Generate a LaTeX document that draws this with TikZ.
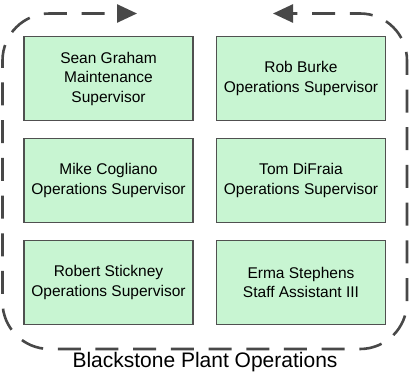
\documentclass[tikz,border=0pt]{standalone}
\usepackage{fontspec}
\setmainfont{Liberation Sans}
\usetikzlibrary{arrows.meta}
\definecolor{boxfill}{RGB}{200,245,210}
\definecolor{boxline}{RGB}{80,80,80}
\definecolor{dashcol}{RGB}{72,72,72}
\begin{document}
\begin{tikzpicture}[x=1pt,y=-1pt,
  person/.style={draw=boxline, fill=boxfill, line width=1.3pt,
    minimum width=169pt, minimum height=84pt, inner sep=0pt,
    align=center, font=\fontsize{15.5}{19.5}\selectfont},
  frame/.style={draw=dashcol, line width=2.6pt, rounded corners=47pt,
    dash pattern=on 23pt off 14.7pt, dash phase=18pt,
    {Triangle[length=20pt,width=18pt]}-{Triangle[length=20pt,width=18pt]}},
  caption/.style={anchor=base, font=\fontsize{21}{25}\selectfont}]
\useasboundingbox (0,0) rectangle (409,382);
\node[person] (sg) at (108.5,78.5) {Sean Graham\\Maintenance\\Supervisor};
\node[person] (rb) at (301,78.5) {Rob Burke\\Operations Supervisor};
\node[person] (mc) at (108.5,180.5) {Mike Cogliano\\Operations Supervisor};
\node[person] (td) at (301,180.5) {Tom DiFraia\\Operations Supervisor};
\node[person] (rs) at (108.5,282.5) {Robert Stickney\\Operations Supervisor};
\node[person] (es) at (301,282.5) {Erma Stephens\\Staff Assistant III};
\coordinate (tipL) at (273,13.5);
\coordinate (tipR) at (137,13.5);
\draw[frame] (tipL) -- (407,13.5) -- (407,349) -- (2.5,349) -- (2.5,13.5) -- (tipR);
\node[caption] (lbl) at (205,367) {Blackstone Plant Operations};
\end{tikzpicture}
\end{document}
